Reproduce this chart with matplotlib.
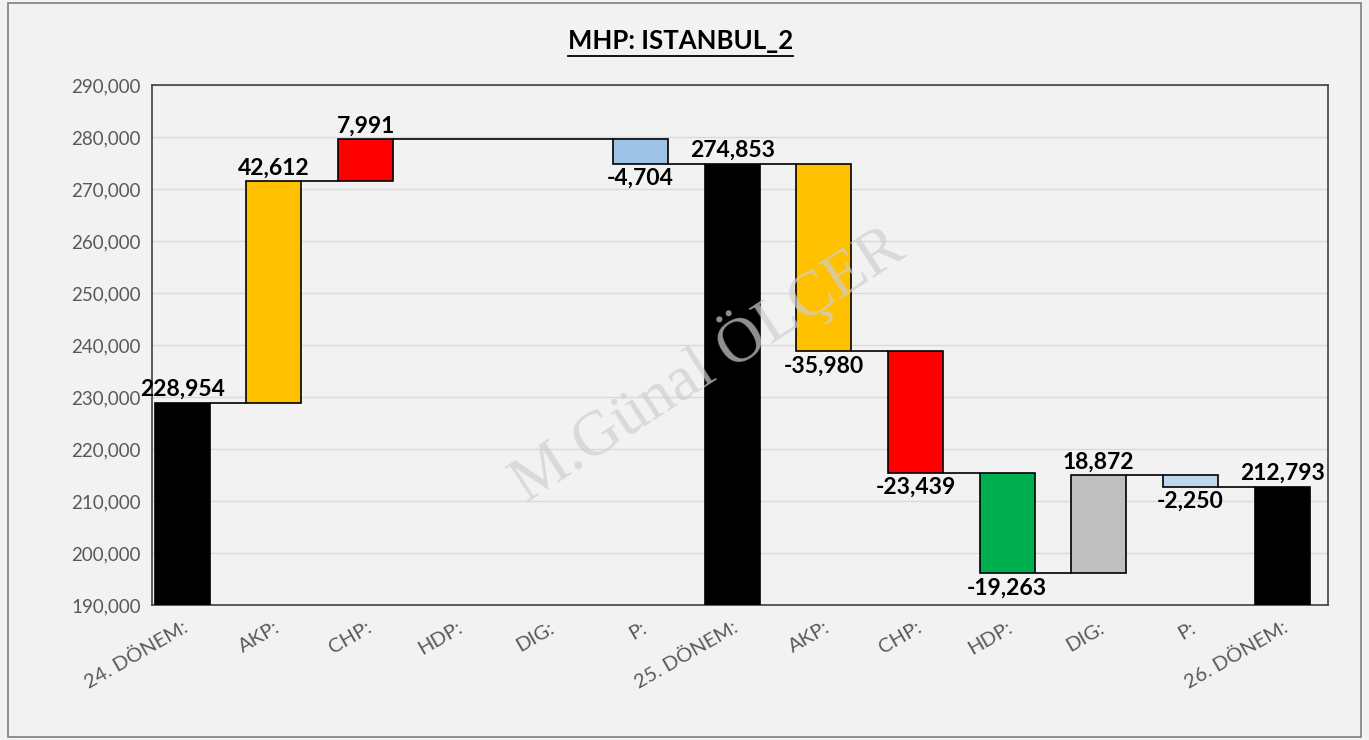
import matplotlib
matplotlib.use("Agg")
import matplotlib.pyplot as plt
from matplotlib.patches import Rectangle
from matplotlib.lines import Line2D
import numpy as np

plt.rcParams["font.family"] = ["Lato", "DejaVu Sans"]

categories = ["24. DÖNEM:", "AKP:", "CHP:", "HDP:", "DIG:", "P:", "25. DÖNEM:",
              "AKP:", "CHP:", "HDP:", "DIG:", "P:", "26. DÖNEM:"]
values = [228954, 42612, 7991, 0, 0, -4704, 274853,
          -35980, -23439, -19263, 18872, -2250, 212793]
is_total = [True, False, False, False, False, False, True,
            False, False, False, False, False, True]
colors = ["#000000", "#FFC000", "#FF0000", "#00B050", "#BFBFBF", "#9DC3E6", "#000000",
          "#FFC000", "#FF0000", "#00B050", "#BFBFBF", "#BDD7EE", "#000000"]

BG = "#F2F2F2"
W = 0.6

fig = plt.figure(figsize=(13.69, 7.40), dpi=100, facecolor=BG)
ax = fig.add_axes([0.111, 0.182, 0.859, 0.703])
ax.set_facecolor(BG)

# running totals
bottoms, tops, levels = [], [], []
run = 0
for v, t in zip(values, is_total):
    if t:
        bottoms.append(0)
        tops.append(v)
        run = v
    else:
        bottoms.append(min(run, run + v))
        tops.append(max(run, run + v))
        run = run + v
    levels.append(run)

x = np.arange(len(categories))
for i in x:
    if values[i] == 0:
        continue
    ax.bar(i, tops[i] - bottoms[i], bottom=bottoms[i], width=W, color=colors[i],
           edgecolor="black", linewidth=1.2, zorder=3)

# connectors: one line from a bar's right edge to the next drawn bar's left edge
i = 0
while i < len(x) - 1:
    j = i + 1
    while values[j] == 0:
        j += 1
    ax.hlines(levels[i], i + W / 2, j - W / 2, color="black", lw=1.2, zorder=2)
    i = j

# value labels
for i, (v, t) in enumerate(zip(values, is_total)):
    if v == 0:
        continue
    if t or v > 0:
        ax.annotate(f"{v:,}", (i, tops[i]), xytext=(0, 2), textcoords="offset points",
                    ha="center", va="bottom", fontsize=16.5, fontweight="bold", zorder=5)
    else:
        ax.annotate(f"{v:,}", (i, bottoms[i]), xytext=(0, -3), textcoords="offset points",
                    ha="center", va="top", fontsize=16.5, fontweight="bold", zorder=5)

ax.set_ylim(190000, 290000)
ax.set_xlim(-0.33, 12.5)
ax.set_yticks(np.arange(190000, 290001, 10000))
ax.yaxis.set_major_formatter(matplotlib.ticker.FuncFormatter(lambda v, p: f"{int(v):,}"))
ax.grid(axis="y", color="#D9D9D9", lw=1.0, zorder=0)
ax.set_axisbelow(True)
ax.set_xticks(x)
ax.set_xticklabels(categories, rotation=30, ha="right", rotation_mode="anchor")
ax.tick_params(axis="both", length=0, labelcolor="#595959", labelsize=13.5)
ax.tick_params(axis="x", pad=10, labelsize=14.5)
ax.tick_params(axis="y", pad=8)
for s in ax.spines.values():
    s.set_color("#404040")
    s.set_linewidth(1.2)

# watermark
ax.text(5.72, 236500, "M.Günal ÖLÇER", family="Liberation Serif",
        fontsize=46, color="#CFCFCF", alpha=0.7, rotation=33,
        ha="center", va="center", zorder=4)

# title with underline
title = fig.text(0.497, 0.945, "MHP: ISTANBUL_2", ha="center", va="center",
                 fontsize=18.5, fontweight="bold")
fig.canvas.draw()
bb = title.get_window_extent().transformed(fig.transFigure.inverted())
fig.add_artist(Line2D([bb.x0, bb.x1], [bb.y0 - 0.004, bb.y0 - 0.004],
                      transform=fig.transFigure, color="black", lw=1.3))

# outer border
fig.add_artist(Rectangle((0.006, 0.004), 0.988, 0.992, transform=fig.transFigure,
                         fill=False, edgecolor="#7F7F7F", lw=1.2))

fig.savefig("out.png", dpi=100, facecolor=BG)
